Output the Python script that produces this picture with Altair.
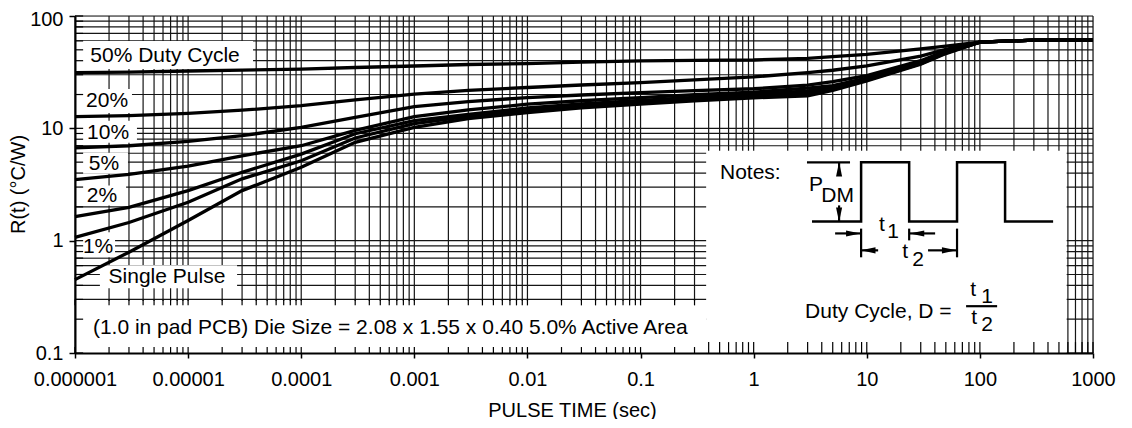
import altair as alt
import pandas as pd

FONT = "Liberation Sans"

# ---------------- data ----------------
T = [1e-6, 3e-6, 1e-5, 3e-5, 1e-4, 3e-4, 1e-3, 3e-3, 1e-2, 3e-2, 0.1, 0.3, 1, 3, 5, 10, 30, 50, 100, 300, 1000]
R_50 = [31.3, 31.7, 32.4, 33.0, 33.6, 34.8, 35.9, 37.0, 37.7, 38.8, 39.8, 40.2, 40.6, 42.0, 43.4, 45.6, 51.0, 54.0, 58.5, 61, 61]
R_20 = [12.7, 13.0, 13.6, 14.5, 15.9, 17.9, 20.2, 21.8, 23.1, 24.3, 25.5, 27.0, 28.7, 31.3, 32.9, 35.9, 44.0, 50.6, 58.5, 61, 61]
R_10 = [6.7, 7.0, 7.65, 8.6, 10.2, 12.5, 15.6, 17.3, 18.8, 19.8, 20.8, 21.7, 22.5, 24.2, 26.0, 29.5, 40.0, 49.0, 58.5, 61, 61]
R_5 = [3.5, 3.9, 4.6, 5.7, 7.0, 9.6, 12.7, 14.6, 16.4, 17.6, 18.8, 19.9, 21.0, 22.8, 24.0, 28.0, 39.0, 48.0, 58.5, 61, 61]
R_2 = [1.64, 1.98, 2.79, 4.06, 5.9, 8.95, 11.7, 13.3, 15.2, 16.5, 17.7, 18.9, 20.0, 21.5, 23.0, 27.3, 38.3, 47.3, 58.5, 61, 61]
R_1 = [1.07, 1.45, 2.2, 3.55, 5.15, 8.2, 11.0, 12.8, 14.5, 15.8, 17.0, 18.2, 19.3, 20.6, 22.3, 26.8, 37.7, 46.8, 58.5, 61, 61]
R_SP = [0.45, 0.79, 1.51, 2.79, 4.5, 7.5, 10.2, 12.2, 13.8, 15.2, 16.4, 17.6, 18.7, 19.5, 21.8, 26.4, 37.2, 46.3, 58.5, 61, 61]
SERIES = ["50% Duty Cycle", "20%", "10%", "5%", "2%", "1%", "Single Pulse"]
SERIES_R = [R_50, R_20, R_10, R_5, R_2, R_1, R_SP]

# tick values
X_MAJOR = [1e-6, 1e-5, 1e-4, 1e-3, 1e-2, 1e-1, 1, 10, 100, 1000]
Y_MAJOR = [0.1, 1, 10, 100]
X_MINOR = [m * 10.0 ** e for e in range(-6, 3) for m in range(1, 10)] + [1000]
Y_MINOR = [m * 10.0 ** e for e in range(-1, 2) for m in range(1, 10)] + [100]

# label boxes (data coordinates)
BOX_X0 = [1e-6, 1e-6, 1e-6, 1e-6, 1e-6, 1e-6, 1.66e-6, 1e-6, 0.38]
BOX_X1 = [3.75e-5, 3.19e-6, 3.53e-6, 2.94e-6, 2.83e-6, 2.26e-6, 2.71e-5, 0.38, 585]
BOX_Y0 = [33.8, 13.7, 7.45, 3.95, 2.06, 0.711, 0.378, 0.1, 0.1]
BOX_Y1 = [59.8, 22.4, 11.7, 6.07, 3.1, 1.19, 0.604, 0.29, 6.3]

LABEL_X = [6.25e-6, 1.92e-6, 1.96e-6, 1.8e-6, 1.73e-6, 1.6e-6, 6.5e-6]
LABEL_Y = [44.1, 17.6, 9.14, 4.85, 2.52, 0.873, 0.472]

# notes texts
NOTE_TEXT = ["(1.0 in pad PCB) Die Size = 2.08 x 1.55 x 0.40 5.0% Active Area", "Notes:", "Duty Cycle, D ="]
NOTE_X = [1.44e-6, 0.504, 2.85]
NOTE_Y = [0.167, 4.04, 0.231]

# pulse diagram
WAVE_T = [3.28, 8.91, 8.91, 23.7, 23.7, 62.8, 62.8, 167, 167, 444]
WAVE_R = [1.48, 1.48, 4.98, 4.98, 1.48, 1.48, 4.98, 4.98, 1.48, 1.48]
SEG_T0 = [2.96, 5.69, 5.69, 5.25, 23.7, 8.91, 23.7, 62.8, 8.91, 34.8, 75.5]
SEG_T1 = [7.11, 5.69, 5.69, 8.91, 40.2, 8.91, 23.7, 62.8, 12.6, 62.8, 142]
SEG_R0 = [4.98, 4.98, 2.06, 1.16, 1.16, 1.28, 1.28, 1.28, 0.82, 0.82, 0.261]
SEG_R1 = [4.98, 3.79, 1.48, 1.16, 1.16, 0.711, 1.006, 0.711, 0.82, 0.82, 0.261]
HEAD_T = [5.69, 5.69, 7.6, 27.8, 10.3, 53.5]
HEAD_R = [4.33, 1.70, 1.16, 1.16, 0.82, 0.82]
HEAD_DIR = ["u", "d", "r", "l", "l", "r"]
DIAG_TEXT = ["P", "DM", "t", "1", "t", "2", "t", "1", "t", "2"]
DIAG_X = [3.56, 5.52, 13.6, 17.1, 21.8, 28.4, 87, 116, 88.9, 116]
DIAG_Y = [3.10, 2.52, 1.37, 1.185, 0.787, 0.668, 0.362, 0.314, 0.205, 0.177]

# ---------------- tables ----------------
curve_rows = []
for name, rs in zip(SERIES, SERIES_R):
    for i, (t, r) in enumerate(zip(T, rs)):
        curve_rows.append({"series": name, "t": t, "R": r, "i": i})
curves_df = pd.DataFrame(curve_rows)

boxes_df = pd.DataFrame({"t": BOX_X0, "t2": BOX_X1, "R": BOX_Y0, "R2": BOX_Y1})
labels_df = pd.DataFrame({"text": SERIES, "t": LABEL_X, "R": LABEL_Y})
notes_df = pd.DataFrame({"text": NOTE_TEXT, "t": NOTE_X, "R": NOTE_Y})
wave_df = pd.DataFrame({"t": WAVE_T, "R": WAVE_R, "i": list(range(len(WAVE_T)))})
seg_df = pd.DataFrame({"t": SEG_T0, "t2": SEG_T1, "R": SEG_R0, "R2": SEG_R1})
head_df = pd.DataFrame({"t": HEAD_T, "R": HEAD_R, "dir": HEAD_DIR})
diag_df = pd.DataFrame({"text": DIAG_TEXT, "t": DIAG_X, "R": DIAG_Y})

# inner ticks
band_x = [v for v in X_MINOR if v < 0.38]
note_x = [v for v in X_MINOR if v >= 0.38]
btick_df = pd.DataFrame({"t": band_x + note_x,
                         "R": [0.1] * len(band_x) + [0.1] * len(note_x),
                         "R2": [0.113] * len(band_x) + [0.125] * len(note_x)})
ttick_df = pd.DataFrame({"t": band_x, "R": [0.3] * len(band_x), "R2": [0.2655] * len(band_x)})
ltick_df = pd.DataFrame({"R": Y_MINOR, "t": [1e-6] * len(Y_MINOR), "t2": [1.18e-6] * len(Y_MINOR)})

# ---------------- encodings ----------------
xscale = alt.Scale(type="log", domain=[1e-6, 1000], nice=False)
yscale = alt.Scale(type="log", domain=[0.1, 100], nice=False)

xaxis = alt.Axis(values=X_MAJOR, format="~f", title="PULSE TIME (sec)", grid=False,
                 tickSize=5, tickWidth=1.5, tickColor="black", domainColor="black", domainWidth=2,
                 labelFont=FONT, labelFontSize=20, labelColor="black", labelPadding=11,
                 labelFlush=False, labelOverlap=False,
                 titleFont=FONT, titleFontSize=20, titleFontWeight="normal", titleColor="black",
                 titleX=497, titleY=57, titleAlign="center", titleBaseline="middle", zindex=1)
yaxis = alt.Axis(values=Y_MAJOR, format="~f", title="R(t) (°C/W)", grid=False,
                 tickSize=6, tickWidth=1.5, tickColor="black", domainColor="black", domainWidth=2,
                 labelFont=FONT, labelFontSize=20, labelColor="black", labelPadding=6,
                 labelOffset={"condition": {"test": "datum.value >= 100", "value": 3}, "value": 0},
                 labelFlush=False, labelOverlap=False,
                 titleFont=FONT, titleFontSize=20, titleFontWeight="normal", titleColor="black",
                 titleX=-57, titleY=168, titleAngle=270, titleAlign="center", titleBaseline="middle",
                 zindex=1)

X = alt.X("t:Q", scale=xscale, axis=xaxis)
Y = alt.Y("R:Q", scale=yscale, axis=yaxis)

GRID = "#151515"

vgrid = alt.Chart(pd.DataFrame({"t": X_MINOR})).mark_rule(color=GRID, strokeWidth=1.2).encode(x=X)
hgrid = alt.Chart(pd.DataFrame({"R": Y_MINOR})).mark_rule(color=GRID, strokeWidth=1.2).encode(y=Y)

boxes = alt.Chart(boxes_df).mark_rect(fill="white").encode(x=X, x2="t2:Q", y=Y, y2="R2:Q")

btick = alt.Chart(btick_df).mark_rule(color="black", strokeWidth=1.2).encode(x=X, y=Y, y2="R2:Q")
ttick = alt.Chart(ttick_df).mark_rule(color="black", strokeWidth=1.2).encode(x=X, y=Y, y2="R2:Q")
ltick = alt.Chart(ltick_df).mark_rule(color="black", strokeWidth=1.2).encode(x=X, x2="t2:Q", y=Y)

curves = alt.Chart(curves_df).mark_line(color="black", strokeWidth=3.3).encode(
    x=X, y=Y, detail="series:N", order="i:Q")

wave = alt.Chart(wave_df).mark_line(color="black", strokeWidth=2.5, strokeJoin="miter").encode(
    x=X, y=Y, order="i:Q")
segs = alt.Chart(seg_df).mark_rule(color="black", strokeWidth=2.2).encode(x=X, x2="t2:Q", y=Y, y2="R2:Q")

ARROW_PATHS = ["M1,0L-1,-0.42L-1,0.42Z", "M-1,0L1,-0.42L1,0.42Z",
               "M0,-1L-0.42,1L0.42,1Z", "M0,1L-0.42,-1L0.42,-1Z"]
heads = alt.Chart(head_df).mark_point(filled=True, color="black", opacity=1, size=210).encode(
    x=X, y=Y,
    shape=alt.Shape("dir:N", scale=alt.Scale(domain=["r", "l", "u", "d"], range=ARROW_PATHS), legend=None))

labels = alt.Chart(labels_df).mark_text(font=FONT, fontSize=21, color="black", align="center",
                                        baseline="middle").encode(x=X, y=Y, text="text:N")
notes = alt.Chart(notes_df).mark_text(font=FONT, fontSize=21, color="black", align="left",
                                      baseline="middle").encode(x=X, y=Y, text="text:N")
diag = alt.Chart(diag_df).mark_text(font=FONT, fontSize=21, color="black", align="center",
                                    baseline="middle").encode(x=X, y=Y, text="text:N")

chart = alt.layer(vgrid, hgrid, boxes, btick, ttick, ltick, curves, wave, segs, heads,
                  labels, notes, diag).properties(
    width=1018, height=337,
    autosize=alt.AutoSizeParams(type="none"),
    padding={"left": 67, "top": 8, "right": 30, "bottom": 66},
).configure_view(stroke=None).configure(background="white")

chart.save("out.html", embed_options={"renderer": "svg", "actions": False})
